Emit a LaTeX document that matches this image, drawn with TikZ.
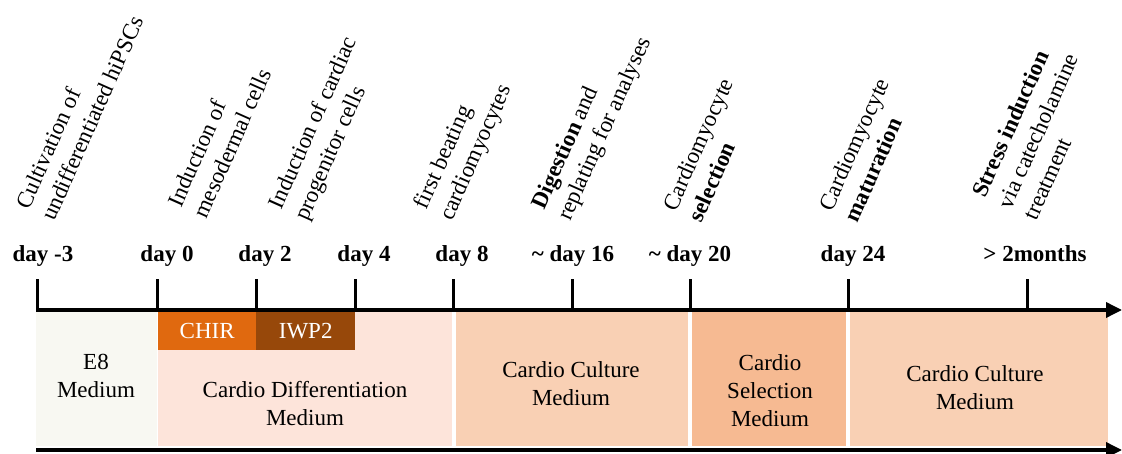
\documentclass[tikz,border=0pt]{standalone}
\usepackage{fontspec}
\setmainfont{Liberation Serif}
\usetikzlibrary{arrows.meta}
\definecolor{eightcol}{HTML}{F8F8F2}
\definecolor{diffcol}{HTML}{FDE4DA}
\definecolor{culturecol}{HTML}{F9D0B4}
\definecolor{selcol}{HTML}{F6BA92}
\definecolor{chircol}{HTML}{E0690F}
\definecolor{iwpcol}{HTML}{97480A}
\newcommand{\labelfont}{\fontsize{23}{28}\selectfont}

\begin{document}
\begin{tikzpicture}[x=1pt,y=-1pt,
  event/.style={rotate=66,anchor=south west,align=left,inner sep=0pt,font=\labelfont},
  daylabel/.style={inner sep=0pt,anchor=base,font=\labelfont\bfseries},
  band/.style={rectangle,inner sep=0pt,minimum height=134pt,anchor=north west},
  medium/.style={align=center,inner sep=0pt,font=\labelfont},
  drug/.style={rectangle,inner sep=0pt,minimum height=38pt,anchor=north west,text=white,font=\labelfont},
  axis/.style={line width=3.5pt,-{Triangle[length=16pt,width=15pt]}},
  daytick/.style={line width=3pt}]
\useasboundingbox (0,0) rectangle (1122,454);

% media bands
\node[band,fill=eightcol,minimum width=121pt](e8) at (36,312) {};
\node[band,fill=diffcol,minimum width=294pt](diff) at (158,312) {};
\node[band,fill=culturecol,minimum width=232pt](cult1) at (456,312) {};
\node[band,fill=selcol,minimum width=154pt](sel) at (692,312) {};
\node[band,fill=culturecol,minimum width=258pt](cult2) at (850,312) {};
\node[drug,fill=chircol,minimum width=98pt](chir) at (158,312) {CHIR};
\node[drug,fill=iwpcol,minimum width=99pt](iwp) at (256,312) {IWP2};

\node[medium](e8text) at (96,376) {E8\\Medium};
\node[medium](difftext) at (305,404) {Cardio Differentiation\\Medium};
\node[medium](cult1text) at (571,384) {Cardio Culture\\Medium};
\node[medium](seltext) at (770,391) {Cardio\\Selection\\Medium};
\node[medium](cult2text) at (975,388) {Cardio Culture\\Medium};

% time axes
\coordinate (t0) at (36,310); \coordinate (tend) at (1122,310);
\coordinate (b0) at (36,450); \coordinate (bend) at (1122,450);
\draw[axis](t0)--(tend);
\draw[axis](b0)--(bend);
\foreach \x/\n in {37/a,157/b,256/c,355/d,453/e,572/f,690/g,848/h,1027/i}{
  \coordinate (tick\n) at (\x,311);
  \draw[daytick](tick\n)--++(0,-32);
}

% days
\foreach \x/\n/\t in {43/a/day -3,167/b/day 0,265/c/day 2,364/d/day 4,462/e/day 8,
  573/f/\textasciitilde\ day 16,690/g/\textasciitilde\ day 20,853/h/day 24,1035/i/> 2months}{
  \node[daylabel](day\n) at (\x,262) {\t};
}

% events
\node[event](ev1) at (55,222) {Cultivation of\\undifferentiated hiPSCs};
\node[event](ev2) at (207,220) {Induction of\\mesodermal cells};
\node[event](ev3) at (312,224) {Induction of cardiac\\progenitor cells};
\node[event](ev4) at (457,224) {first beating\\cardiomyocytes};
\node[event](ev5) at (575,224) {\textbf{Digestion} and\\replating for analyses};
\node[event](ev6) at (702,224) {Cardiomyocyte\\\textbf{selection}};
\node[event](ev7) at (858,224) {Cardiomyocyte\\\textbf{maturation}};
\node[event](ev8) at (1037,222) {\textbf{Stress induction}\\via catecholamine\\treatment};

\end{tikzpicture}
\end{document}
